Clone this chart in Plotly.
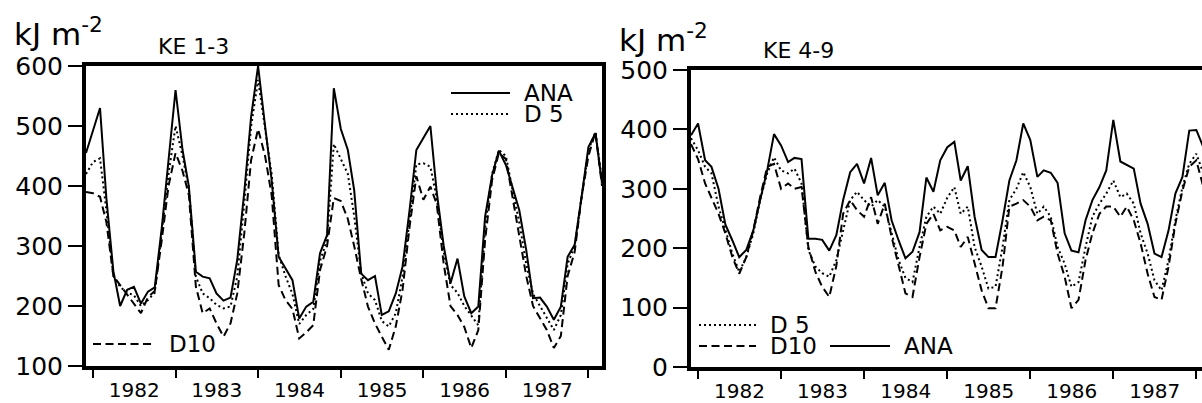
import pandas as pd
import plotly.graph_objects as go

# Monthly values, Dec 1981 .. Mar 1988 (kJ m-2)
months = pd.date_range("1981-12-01", periods=76, freq="MS")

# KE 1-3
ana_13 = [455, 492, 530, 380, 258, 200, 227, 232, 204, 224, 231, 330, 440, 560, 460, 399,
          257, 249, 246, 221, 209, 214, 277, 390, 515, 600, 500, 410, 282, 263, 243, 179,
          199, 207, 288, 318, 563, 495, 460, 393, 254, 243, 250, 185, 191, 221, 266, 360,
          460, 480, 500, 390, 300, 238, 279, 216, 188, 199, 349, 418, 459, 435, 395, 360,
          293, 213, 214, 199, 177, 199, 282, 302, 380, 465, 488, 405]
d5_13 = [420, 440, 446, 360, 250, 232, 222, 218, 200, 210, 222, 320, 420, 500, 450, 395,
         249, 221, 213, 202, 196, 199, 249, 371, 499, 577, 500, 420, 285, 250, 220, 170,
         185, 195, 275, 310, 470, 445, 420, 350, 255, 221, 210, 175, 166, 188, 249, 343,
         436, 438, 432, 380, 290, 235, 222, 200, 185, 168, 330, 420, 460, 450, 390, 340,
         270, 220, 200, 180, 160, 185, 270, 300, 380, 460, 490, 410]
d10_13 = [390, 388, 382, 340, 250, 235, 220, 205, 188, 215, 225, 310, 400, 455, 425, 385,
          232, 188, 196, 171, 149, 171, 221, 321, 443, 495, 450, 385, 235, 210, 195, 146,
          156, 168, 260, 300, 380, 375, 345, 300, 245, 199, 171, 149, 127, 166, 227, 332,
          416, 377, 399, 370, 270, 200, 185, 165, 130, 160, 310, 410, 455, 445, 380, 320,
          250, 200, 180, 160, 130, 150, 250, 290, 380, 450, 490, 400]

# KE 4-9
ana_49 = [390, 410, 348, 337, 300, 240, 213, 185, 197, 230, 281, 331, 392, 373, 345, 352,
          350, 216, 216, 214, 196, 222, 281, 328, 342, 309, 352, 289, 310, 247, 213, 183,
          194, 227, 319, 295, 348, 370, 379, 314, 338, 253, 197, 185, 185, 247, 314, 348,
          410, 382, 320, 331, 327, 310, 225, 196, 193, 247, 281, 303, 331, 416, 346, 340,
          334, 275, 241, 191, 185, 230, 292, 320, 398, 399, 370, 330]
d5_49 = [385, 365, 337, 326, 270, 230, 191, 160, 185, 225, 281, 326, 353, 331, 326, 334,
         309, 197, 169, 158, 152, 180, 230, 281, 295, 281, 270, 281, 270, 225, 180, 150,
         143, 202, 253, 270, 258, 285, 303, 258, 270, 202, 169, 132, 135, 202, 281, 300,
         328, 303, 258, 270, 253, 202, 174, 135, 143, 202, 253, 275, 292, 314, 286, 292,
         275, 225, 191, 146, 129, 180, 247, 303, 342, 359, 326, 300]
d10_49 = [375, 350, 309, 286, 258, 225, 185, 157, 185, 230, 286, 337, 342, 300, 309, 300,
          303, 202, 160, 135, 118, 170, 258, 281, 264, 253, 286, 241, 275, 219, 169, 124,
          118, 185, 241, 258, 230, 236, 230, 202, 219, 174, 129, 99, 99, 169, 270, 275,
          281, 270, 247, 253, 247, 191, 152, 99, 113, 180, 225, 258, 270, 270, 253, 270,
          247, 208, 157, 118, 113, 169, 241, 297, 337, 348, 303, 280]

W, H = 1202, 403
FONT = "DejaVu Sans"
DOT = "2px,3px"
DASH = "8px,4.5px"

fig = go.Figure()

panels = [
    ("x", "y", ana_13, d5_13, d10_13),
    ("x2", "y2", ana_49, d5_49, d10_49),
]
for xa, ya, ana, d5, d10 in panels:
    fig.add_trace(go.Scatter(x=months, y=d10, xaxis=xa, yaxis=ya, mode="lines",
                             line=dict(color="black", width=2, dash=DASH), name="D10"))
    fig.add_trace(go.Scatter(x=months, y=d5, xaxis=xa, yaxis=ya, mode="lines",
                             line=dict(color="black", width=2, dash=DOT), name="D 5"))
    fig.add_trace(go.Scatter(x=months, y=ana, xaxis=xa, yaxis=ya, mode="lines",
                             line=dict(color="black", width=2), name="ANA"))


def px(x):
    return x / W


def py(y):
    return 1 - y / H


xcommon = dict(type="date", dtick="M12", tick0="1982-01-01", ticklabelmode="period",
               tickformat="%Y", ticks="outside", ticklen=8, tickwidth=2, tickcolor="black",
               ticklabelstandoff=-5,
               showline=True, linewidth=4, linecolor="black", mirror=True,
               showgrid=False, zeroline=False, automargin=False,
               tickfont=dict(family=FONT, size=20, color="black"))
ycommon = dict(ticks="outside", ticklen=14, tickwidth=2, tickcolor="black",
               showline=True, linewidth=4, linecolor="black",
               showgrid=False, zeroline=False, dtick=100, automargin=False,
               tickfont=dict(family=FONT, size=25, color="black"))

fig.update_layout(
    template="none",
    width=W, height=H,
    margin=dict(l=0, r=0, t=0, b=0, pad=0),
    paper_bgcolor="white", plot_bgcolor="white",
    showlegend=False,
    xaxis=dict(xcommon, domain=[px(86), px(602)], range=["1981-12-01", "1988-03-01"],
               anchor="y"),
    yaxis=dict(ycommon, domain=[py(366), py(66)], range=[100, 600], mirror=True,
               anchor="x"),
    xaxis2=dict(xcommon, domain=[px(691), 1.0], range=["1981-12-01", "1988-01-26"],
                anchor="y2"),
    yaxis2=dict(ycommon, domain=[py(367), py(70)], range=[0, 500], mirror=False,
                anchor="x2"),
)

# Units and panel titles
texts = [
    (12, 32, "kJ m<sup>-2</sup>", 31, "left"),
    (193, 47, "KE 1-3", 22, "center"),
    (617, 38, "kJ m<sup>-2</sup>", 31, "left"),
    (798, 50, "KE 4-9", 22, "center"),
]
for x, y, t, s, anc in texts:
    fig.add_annotation(x=px(x), y=py(y), xref="paper", yref="paper", text=t,
                       showarrow=False, xanchor=anc, yanchor="middle",
                       font=dict(family=FONT, size=s, color="black"))

# Line keys: (x0, x1, y, dash, label)
keys = [
    (451, 510, 93, "solid", "ANA"),
    (451, 510, 114, DOT, "D 5"),
    (93, 155, 344, DASH, "D10"),
    (699, 756, 325, DOT, "D 5"),
    (699, 756, 346, DASH, "D10"),
    (830, 890, 346, "solid", "ANA"),
]
for x0, x1, y, dash, label in keys:
    fig.add_shape(type="line", xref="paper", yref="paper",
                  x0=px(x0), x1=px(x1), y0=py(y), y1=py(y),
                  line=dict(color="black", width=2, dash=dash))
    fig.add_annotation(x=px(x1 + 12), y=py(y), xref="paper", yref="paper", text=label,
                       showarrow=False, xanchor="left", yanchor="middle",
                       font=dict(family=FONT, size=23, color="black"))

fig.write_html("out.html")
